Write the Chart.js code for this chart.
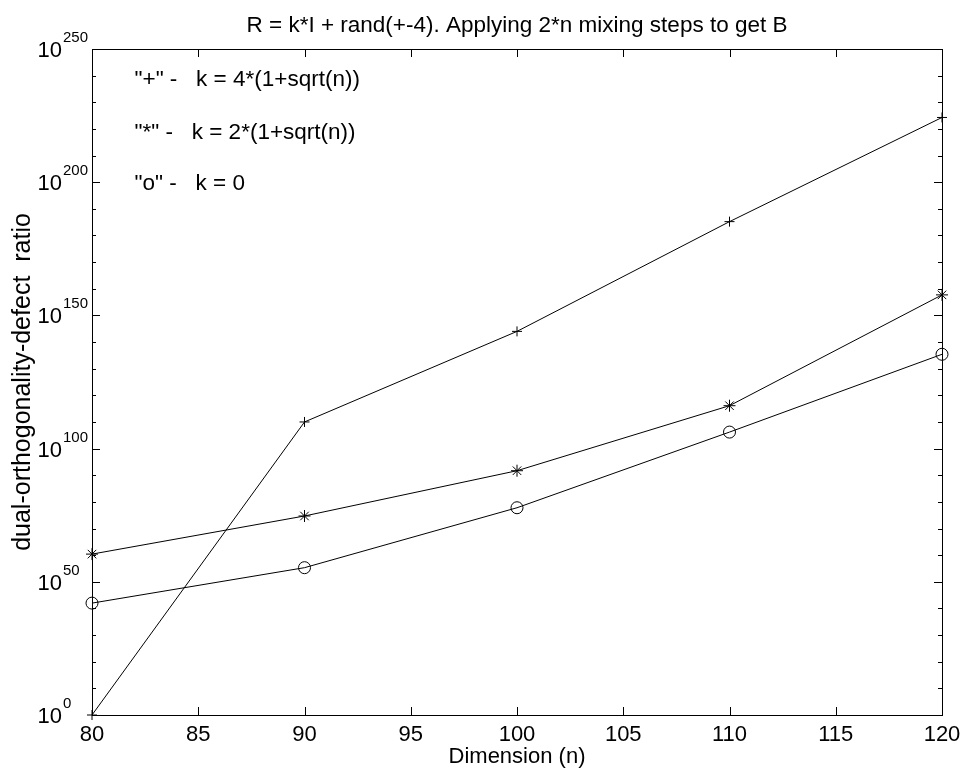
<!DOCTYPE html>
<html>
<head>
<meta charset="utf-8">
<script src="https://cdn.jsdelivr.net/npm/chart.js@4.4.0/dist/chart.umd.min.js"></script>
<style>
  body { margin: 0; background: #fff; }
  #wrap { width: 963px; height: 774px; }
</style>
</head>
<body>
<div id="wrap"><canvas id="chart" width="963" height="774"></canvas></div>
<script>
// dimensions n
const dims = [80, 90, 100, 110, 120];
// log10 of the dual-orthogonality-defect ratio
const plusExp = [0, 110, 144, 185.2, 224.3];
const starExp = [60.4, 74.7, 91.7, 116.1, 157.7];
const circleExp = [42, 55.3, 77.8, 106.2, 135.4];

const xTicks = [80, 85, 90, 95, 100, 105, 110, 115, 120];
const yTicks = [0, 50, 100, 150, 200, 250];
const yMinorTicks = [10, 20, 30, 40, 60, 70, 80, 90, 110, 120, 130, 140, 160, 170, 180, 190, 210, 220, 230, 240];

const titleText = "R = k*I + rand(+-4). Applying 2*n mixing steps to get B";
const xLabel = "Dimension (n)";
const yLabel = "dual-orthogonality-defect  ratio";

// text notes placed in data coordinates
const noteX = [82, 82, 82];
const noteY = [238.5, 218.5, 199.3];
const noteText = ['"+" -   k = 4*(1+sqrt(n))', '"*" -   k = 2*(1+sqrt(n))', '"o" -   k = 0'];

const FONT = "'Liberation Sans', Arial, Helvetica, sans-serif";

const toPoints = (ys) => dims.map((x, i) => ({ x: x, y: ys[i] }));

const dataset = (ys, style, r) => ({
  data: toPoints(ys),
  borderColor: "#000",
  borderWidth: 1,
  pointStyle: style,
  pointRadius: r,
  pointBorderColor: "#000",
  pointBackgroundColor: "rgba(0,0,0,0)",
  pointBorderWidth: 1,
  fill: false,
  tension: 0,
  clip: false,
});

/**
 * Draws the frame, inward ticks, tick labels, titles and notes
 */
const matlabAxes = {
  id: "matlabAxes",
  afterDraw(chart) {
    const ctx = chart.ctx;
    const xs = chart.scales.x;
    const ys = chart.scales.y;
    const a = chart.chartArea;
    ctx.save();
    ctx.strokeStyle = "#000";
    ctx.lineWidth = 1;
    ctx.strokeRect(Math.round(a.left) + 0.5, Math.round(a.top) + 0.5,
      Math.round(a.right - a.left), Math.round(a.bottom - a.top));

    ctx.beginPath();
    for (const t of xTicks) {
      const px = Math.round(xs.getPixelForValue(t)) + 0.5;
      ctx.moveTo(px, a.bottom); ctx.lineTo(px, a.bottom - 8);
      ctx.moveTo(px, a.top); ctx.lineTo(px, a.top + 8);
    }
    for (const t of yTicks) {
      const py = Math.round(ys.getPixelForValue(t)) + 0.5;
      ctx.moveTo(a.left, py); ctx.lineTo(a.left + 8, py);
      ctx.moveTo(a.right, py); ctx.lineTo(a.right - 8, py);
    }
    for (const t of yMinorTicks) {
      const py = Math.round(ys.getPixelForValue(t)) + 0.5;
      ctx.moveTo(a.left, py); ctx.lineTo(a.left + 4, py);
      ctx.moveTo(a.right, py); ctx.lineTo(a.right - 4, py);
    }
    ctx.stroke();

    ctx.fillStyle = "#000";
    // x tick labels
    ctx.font = "22px " + FONT;
    ctx.textAlign = "center";
    ctx.textBaseline = "alphabetic";
    for (const t of xTicks) {
      ctx.fillText(String(t), xs.getPixelForValue(t), a.bottom + 26);
    }
    // y tick labels 10^n
    for (const t of yTicks) {
      const py = ys.getPixelForValue(t);
      ctx.font = "22px " + FONT;
      ctx.textAlign = "right";
      ctx.fillText("10", a.left - 30, py + 8);
      ctx.font = "15px " + FONT;
      ctx.textAlign = "left";
      ctx.fillText(String(t), a.left - 29, py - 7);
    }
    // axis labels and title
    ctx.font = "22px " + FONT;
    ctx.textAlign = "center";
    ctx.fillText(xLabel, (a.left + a.right) / 2, a.bottom + 48);
    ctx.font = "22.5px " + FONT;
    ctx.fillText(titleText, (a.left + a.right) / 2, a.top - 17);
    ctx.save();
    ctx.font = "25px " + FONT;
    ctx.translate(30, (a.top + a.bottom) / 2);
    ctx.rotate(-Math.PI / 2);
    ctx.fillText(yLabel, 0, 0);
    ctx.restore();
    // notes
    ctx.font = "22.5px " + FONT;
    ctx.textAlign = "left";
    ctx.textBaseline = "middle";
    noteText.forEach((txt, i) => {
      ctx.fillText(txt, xs.getPixelForValue(noteX[i]), ys.getPixelForValue(noteY[i]));
    });
    ctx.restore();
  },
};

new Chart(document.getElementById("chart"), {
  type: "line",
  data: {
    datasets: [
      dataset(plusExp, "cross", 5),
      dataset(starExp, "star", 6),
      dataset(circleExp, "circle", 6),
    ],
  },
  options: {
    responsive: false,
    animation: false,
    layout: { padding: { left: 92, right: 21, top: 49, bottom: 59 } },
    plugins: { legend: { display: false }, tooltip: { enabled: false } },
    scales: {
      x: { type: "linear", min: 80, max: 120, display: false },
      y: { type: "linear", min: 0, max: 250, display: false },
    },
  },
  plugins: [matlabAxes],
});
</script>
</body>
</html>
